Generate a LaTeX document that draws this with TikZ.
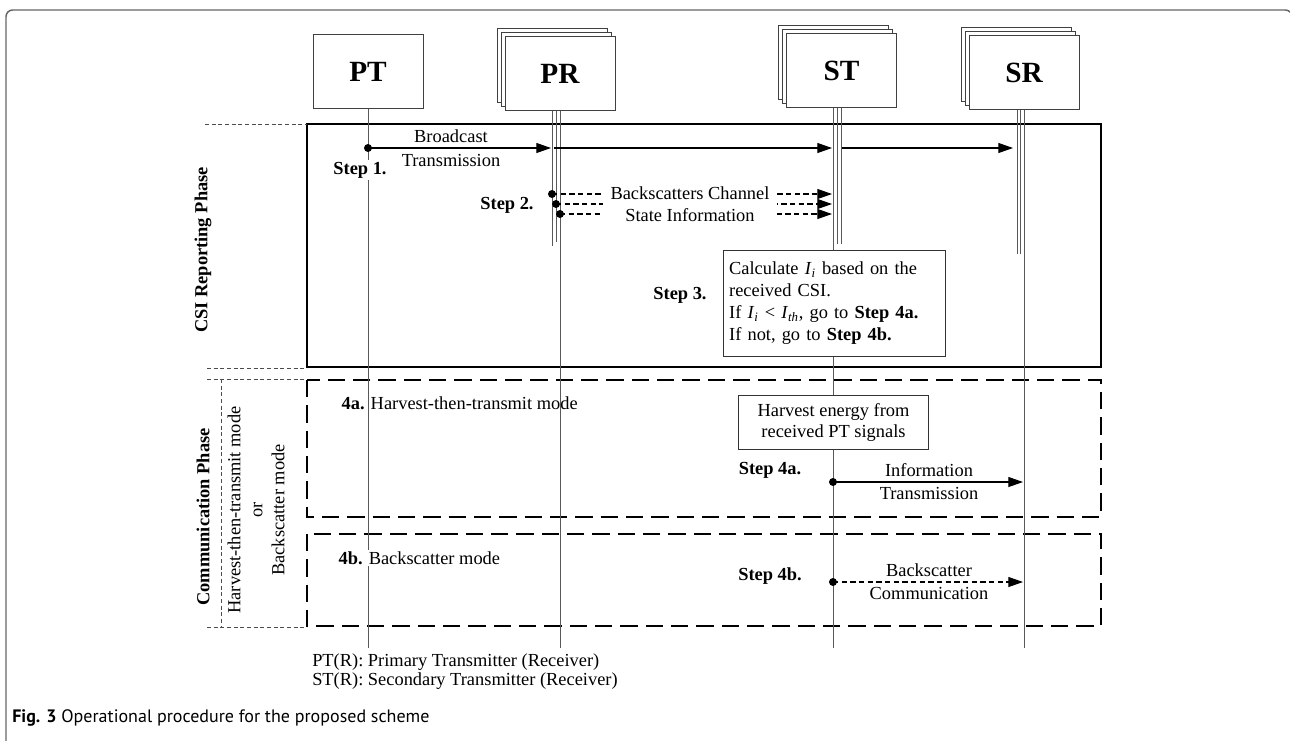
\documentclass[tikz,border=0pt]{standalone}
\usepackage{fontspec}
\setmainfont{Liberation Serif}
\newfontfamily\captionfont{PT Sans}
\usetikzlibrary{arrows.meta,positioning,shadows}

\newcommand{\bodysize}{\fontsize{13.8}{16.5}\selectfont}
\newcommand{\Iv}[1]{\textit{I}\textsubscript{\textit{#1}}}

\tikzset{
  entity/.style={draw=black!75, fill=white, line width=0.7pt,
    minimum width=82.5pt, minimum height=56pt,
    font=\fontsize{22}{24}\selectfont\bfseries},
  stacked/.style={entity,
    copy shadow={shadow xshift=-6pt, shadow yshift=6pt},
    copy shadow={shadow xshift=-3pt, shadow yshift=3pt}},
  life/.style={draw=black!65, line width=0.6pt},
  msg/.style={line width=0.8pt, -{Triangle[length=11pt,width=7.5pt]}},
  bsmsg/.style={msg, dash pattern=on 4pt off 2.5pt},
  dot/.style={circle, fill=black, inner sep=0pt, minimum size=6pt},
  steplabel/.style={font=\bodysize\bfseries, fill=white, inner sep=1.5pt},
  infobox/.style={draw=black!80, fill=white, line width=0.7pt, font=\bodysize},
  phasebox/.style={line width=1.6pt},
  modebox/.style={line width=1.6pt, dash pattern=on 13pt off 6pt},
  divider/.style={draw=black!70, line width=0.4pt, dash pattern=on 3pt off 2pt},
}

\begin{document}
\begin{tikzpicture}[x=0.75pt, y=-0.75pt, font=\bodysize]
\useasboundingbox (0,0) rectangle (1290,740);
\draw[black!60, line width=1.1pt, rounded corners=5pt] (6,745) -- (6,10) -- (1292,10) -- (1292,745);

% phases
\draw[phasebox] (307,124) rectangle (1101,367);
\draw[modebox] (307,380) rectangle (1101,517);
\draw[modebox] (307,534) rectangle (1101,626);
\draw[divider] (205,124) -- (307,124);
\draw[divider] (207,368) -- (307,368);
\draw[divider] (207,379) -- (307,379);
\draw[divider] (221,379) -- (221,627);
\draw[divider] (207,627) -- (307,627);

\node[font=\bodysize\bfseries, rotate=90] (csiphase) at (203,250) {CSI Reporting Phase};
\node[font=\bodysize\bfseries, rotate=90] (comphase) at (203,517) {Communication Phase};
\node[rotate=90, align=center] (modes) at (256,510) {Harvest-then-transmit mode\\or\\Backscatter mode};

% entities and lifelines
\node[entity] (PT) at (368,71.5) {PT};
\node[stacked] (PR) at (560,73.5) {PR};
\node[stacked] (ST) at (841.5,70.5) {ST};
\node[stacked] (SR) at (1024,72.5) {SR};

\coordinate (PTend) at (368,648);
\coordinate (PRend) at (560,648);
\coordinate (STend) at (833,648);
\coordinate (SRend) at (1024,648);

\draw[life] (PT.south) -- (PTend);
\draw[life] (PR.south) -- (PRend);
\draw[life] ([xshift=-6pt]PR.south) -- ++(0,135);
\draw[life] ([xshift=-3pt]PR.south) -- ++(0,131);
\draw[life] (ST.south -| STend) -- (STend);
\draw[life] ([xshift=-3.4pt]ST.south) -- ++(0,136);
\draw[life] (ST.south) -- ++(0,136);
\draw[life] (SR.south) -- (SRend);
\draw[life] ([xshift=-5.2pt]SR.south) -- ++(0,144);
\draw[life] ([xshift=-2.4pt]SR.south) -- ++(0,144);

% step 1
\node[dot] (d1) at (368,148) {};
\coordinate (b1) at (551,148);
\coordinate (b2) at (554,148);
\coordinate (b3) at (832,148);
\coordinate (b4) at (842,148);
\coordinate (b5) at (1013,148);
\draw[msg] (d1.center) -- (b1);
\draw[msg] (b2) -- (b3);
\draw[msg] (b4) -- (b5);
\node (bc1) at (451,136) {Broadcast};
\node (bc2) at (451,160) {Transmission};
\node[steplabel] (s1) at (360,170) {Step 1.};

% step 2
\node[dot] (d2a) at (552,194) {};
\node[dot] (d2b) at (556,204) {};
\node[dot] (d2c) at (560,214) {};
\coordinate (c2a) at (832,194);
\coordinate (c2b) at (832,204);
\coordinate (c2c) at (832,214);
\draw[bsmsg] (d2a.center) -- (c2a);
\draw[bsmsg] (d2b.center) -- (c2b);
\draw[bsmsg] (d2c.center) -- (c2c);
\node[fill=white, align=center, inner xsep=6pt, inner ysep=1pt] (csi) at (690,204) {Backscatters Channel\\State Information};
\node[steplabel] (s2) at (507,205) {Step 2.};

% step 3
\node[infobox, text width=158pt, inner xsep=4.5pt, inner ysep=5pt, align=left, minimum height=79pt] (calc) at (834.5,303.5)
  {Calculate \Iv{i} based on the\\received CSI.\\If \Iv{i} < \Iv{th}, go to \textbf{Step 4a.}\\If not, go to \textbf{Step 4b.}};
\node[steplabel] (s3) at (680,295) {Step 3.};

% step 4a
\node[anchor=west, inner sep=1pt] (m4a) at (340,403) {\textbf{4a.} Harvest-then-transmit mode};
\node[infobox, align=center, minimum width=143pt, minimum height=41pt] (harv) at (833.5,422.5) {Harvest energy from\\received PT signals};
\node[steplabel] (s4a) at (770,470) {Step 4a.};
\node[dot] (d4a) at (833,482) {};
\coordinate (e4a) at (1023,482);
\draw[msg] (d4a.center) -- (e4a);
\node (it1) at (929,470) {Information};
\node (it2) at (929,493) {Transmission};

% step 4b
\node[anchor=west, fill=white, inner sep=1pt] (m4b) at (337,558) {\textbf{4b.} Backscatter mode};
\node[steplabel] (s4b) at (770,576) {Step 4b.};
\node[dot] (d4b) at (833,582) {};
\coordinate (e4b) at (1023,582);
\draw[bsmsg] (d4b.center) -- (e4b);
\node (bs1) at (929,570) {Backscatter};
\node (bs2) at (929,593) {Communication};

% legend and caption
\node[anchor=west, align=left, inner sep=0pt, font=\fontsize{13.8}{14.3}\selectfont] (legend) at (312,672)
  {PT(R): Primary Transmitter (Receiver)\\ST(R): Secondary Transmitter (Receiver)};
\node[anchor=west, inner sep=0pt, font=\captionfont\fontsize{13.5}{16}\selectfont] (cap) at (12,718)
  {\textbf{Fig. 3} Operational procedure for the proposed scheme};
\end{tikzpicture}
\end{document}
